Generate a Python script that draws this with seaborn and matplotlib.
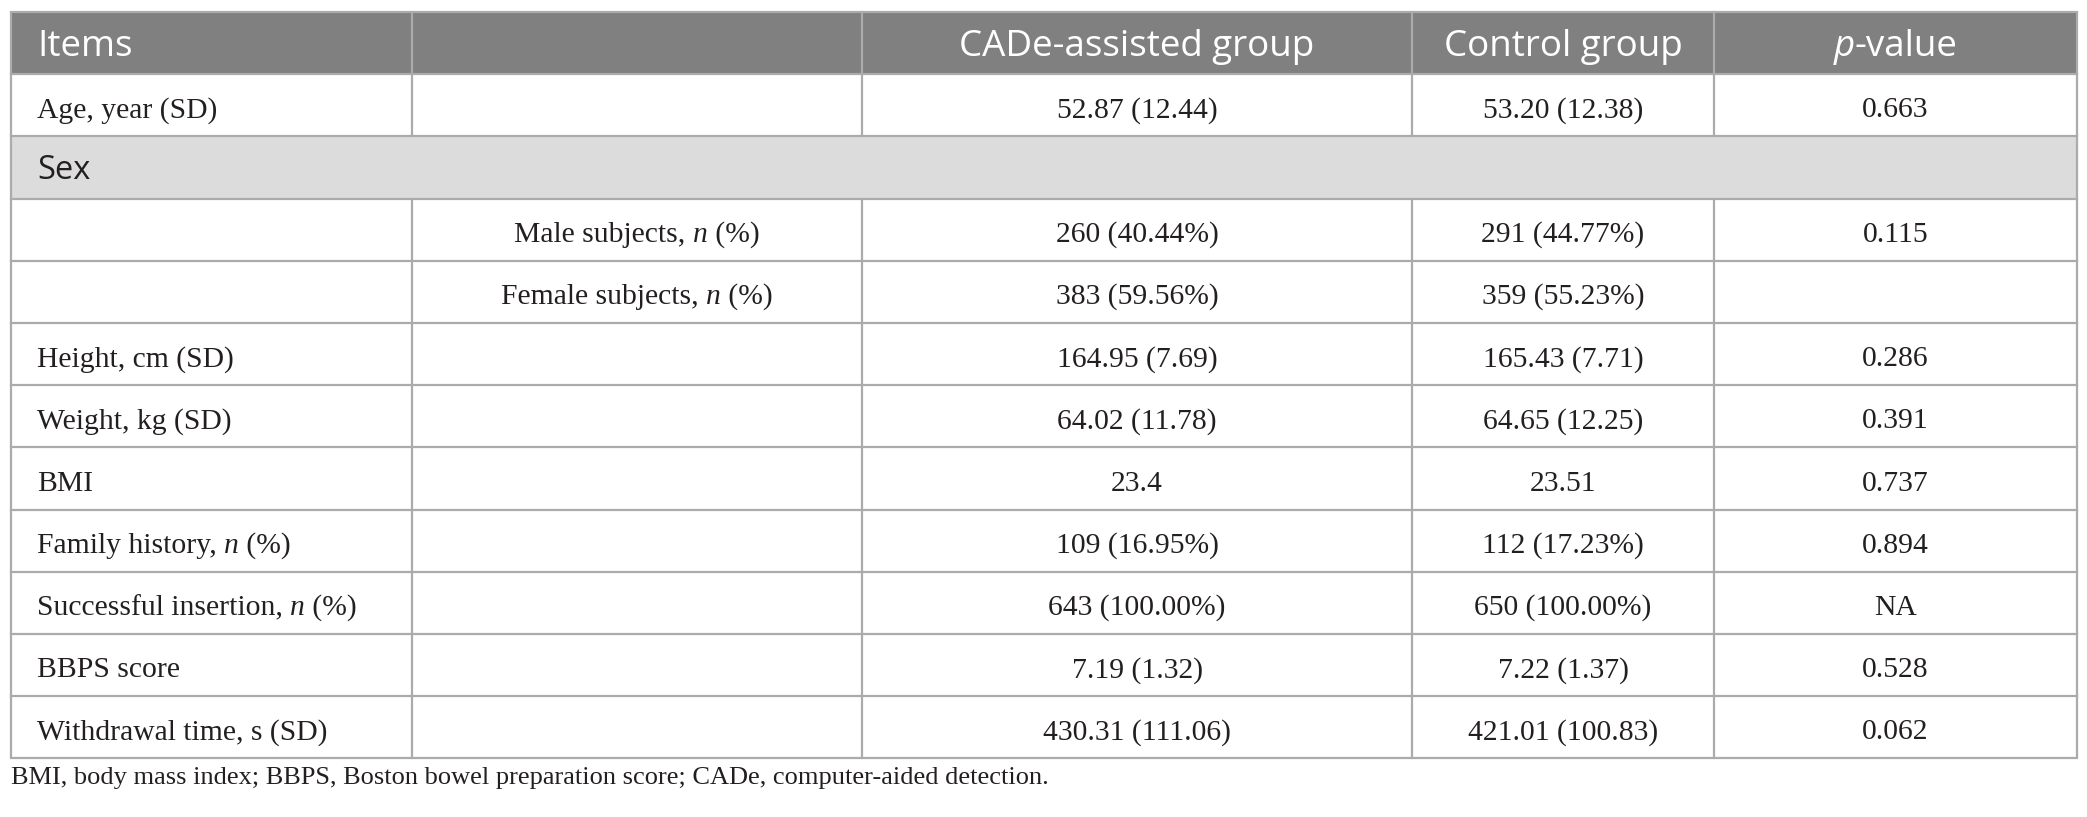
import matplotlib
matplotlib.use("Agg")
import matplotlib.pyplot as plt
import seaborn as sns

sns.set_theme(style="white")
plt.rcParams['font.family'] = ['Liberation Serif', 'DejaVu Sans']

# Table content
headers = ["Items", "", "CADe-assisted group", "Control group", "p-value"]
items = ["Age, year (SD)", "Sex", "", "", "Height, cm (SD)", "Weight, kg (SD)", "BMI",
         "Family history, n (%)", "Successful insertion, n (%)", "BBPS score",
         "Withdrawal time, s (SD)"]
sub_items = ["", "", "Male subjects, n (%)", "Female subjects, n (%)", "", "", "",
             "", "", "", ""]
cade = ["52.87 (12.44)", "", "260 (40.44%)", "383 (59.56%)", "164.95 (7.69)",
        "64.02 (11.78)", "23.4", "109 (16.95%)", "643 (100.00%)", "7.19 (1.32)",
        "430.31 (111.06)"]
control = ["53.20 (12.38)", "", "291 (44.77%)", "359 (55.23%)", "165.43 (7.71)",
           "64.65 (12.25)", "23.51", "112 (17.23%)", "650 (100.00%)", "7.22 (1.37)",
           "421.01 (100.83)"]
pvals = ["0.663", "", "0.115", "", "0.286", "0.391", "0.737", "0.894", "NA",
         "0.528", "0.062"]
section_rows = ["Sex"]
footnote = "BMI, body mass index; BBPS, Boston bowel preparation score; CADe, computer-aided detection."

W, H = 2087, 817
fig = plt.figure(figsize=(W / 100, H / 100), dpi=100)
ax = fig.add_axes([0, 0, 1, 1])
ax.set_xlim(0, W)
ax.set_ylim(H, 0)
ax.axis("off")

col_edges = [11, 412, 862, 1412, 1714, 2077]
top, row_h = 12, 62.2
n_rows = len(items) + 1
line_c = "#ababab"
head_bg = "#808080"
sec_bg = "#dcdcdc"
text_c = "#231f20"
SANS = ["Open Sans", "DejaVu Sans"]
SERIF = ["Liberation Serif", "DejaVu Serif"]

renderer = fig.canvas.get_renderer()


def rich_text(x, y, parts, ha, size, family, color=text_c):
    # parts: list of (text, italic)
    objs = []
    for txt, it in parts:
        t = ax.text(0, y, txt, fontsize=size, family=family, color=color,
                    style="italic" if it else "normal", va="center", ha="left")
        objs.append(t)
    widths = [t.get_window_extent(renderer=renderer).width for t in objs]
    total = sum(widths)
    x0 = x - total / 2 if ha == "center" else x
    for t, w in zip(objs, widths):
        t.set_x(x0)
        x0 += w


def split_n(s):
    # italicise the n in "..., n (%)"
    if ", n (%)" in s:
        a = s.split(", n (%)")[0]
        return [(a + ", ", False), ("n", True), (" (%)", False)]
    return [(s, False)]


# header background
ax.add_patch(plt.Rectangle((col_edges[0], top), col_edges[-1] - col_edges[0], row_h,
                           color=head_bg, lw=0, zorder=0))
yc = top + row_h / 2 + 4
rich_text(col_edges[0] + 26, yc, [(headers[0], False)], "left", 26.5, SANS, "white")
for j in range(2, 4):
    rich_text((col_edges[j] + col_edges[j + 1]) / 2, yc, [(headers[j], False)],
              "center", 26.5, SANS, "white")
rich_text((col_edges[4] + col_edges[5]) / 2, yc, [("p", True), ("-value", False)],
          "center", 26.5, SANS, "white")

for i in range(len(items)):
    y0 = top + row_h * (i + 1)
    yc = y0 + row_h / 2 + 5
    if items[i] in section_rows:
        ax.add_patch(plt.Rectangle((col_edges[0], y0), col_edges[-1] - col_edges[0], row_h,
                                   color=sec_bg, lw=0, zorder=0))
        rich_text(col_edges[0] + 26, yc - 2, [(items[i], False)], "left", 23.5, SANS)
        continue
    rich_text(col_edges[0] + 26, yc, split_n(items[i]), "left", 21.3, SERIF)
    rich_text((col_edges[1] + col_edges[2]) / 2, yc, split_n(sub_items[i]), "center", 21.3, SERIF)
    rich_text((col_edges[2] + col_edges[3]) / 2, yc, [(cade[i], False)], "center", 21.3, SERIF)
    rich_text((col_edges[3] + col_edges[4]) / 2, yc, [(control[i], False)], "center", 21.3, SERIF)
    rich_text((col_edges[4] + col_edges[5]) / 2, yc, [(pvals[i], False)], "center", 21.3, SERIF)

# grid lines
bottom = top + row_h * n_rows
for k in range(n_rows + 1):
    y = top + row_h * k
    ax.plot([col_edges[0], col_edges[-1]], [y, y], color=line_c, lw=1.6, zorder=2,
            solid_capstyle="projecting")
for k, x in enumerate(col_edges):
    for r in range(n_rows):
        if r >= 1 and items[r - 1] in section_rows and 0 < k < len(col_edges) - 1:
            continue
        ax.plot([x, x], [top + row_h * r, top + row_h * (r + 1)], color=line_c, lw=1.6,
                zorder=2)

ax.text(col_edges[0], bottom + 20, footnote, fontsize=19, family=SERIF, va="center",
        ha="left", color=text_c)

fig.savefig("out.png", dpi=100)
